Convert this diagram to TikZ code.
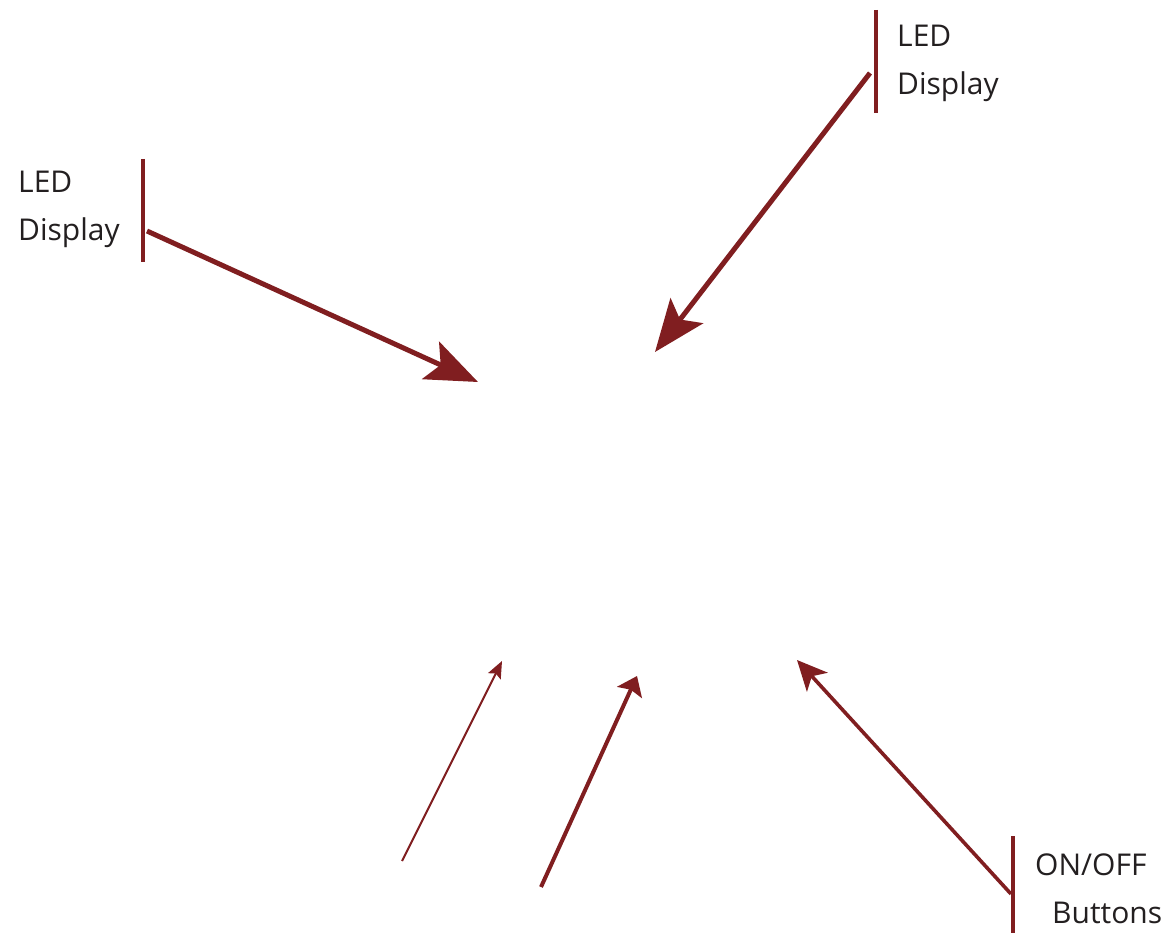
\documentclass[tikz,border=0pt]{standalone}
\usepackage{fontspec}
\setmainfont{Open Sans}
\usetikzlibrary{arrows.meta}
\definecolor{arrowred}{RGB}{128,30,32}
\definecolor{txt}{RGB}{35,31,32}
\begin{document}
\begin{tikzpicture}[x=1pt,y=-1pt,
  lbl/.style={anchor=base west,inner sep=0pt,text=txt,font=\fontsize{30}{36}\selectfont},
  bar/.style={draw=arrowred,line width=4pt},
  bigarrow/.style={draw=arrowred,line width=5pt,-{Stealth[length=52pt,width=41pt,inset=11pt,fill=arrowred]}},
  midarrow/.style={draw=arrowred,line width=3.6pt,-{Stealth[length=30pt,width=28pt,inset=8pt,fill=arrowred]}},
  flatarrow/.style={draw=arrowred,line width=4pt,-{Stealth[length=18pt,width=27pt,inset=3pt,fill=arrowred]}},
  thinarrow/.style={draw=arrowred,line width=2pt,-{Stealth[length=17pt,width=14pt,inset=3pt,fill=arrowred]}}]
\path[use as bounding box] (0,0) rectangle (1167,933);

% labels
\node[lbl] (ledA1) at (18,193) {LED};
\node[lbl] (ledA2) at (18,241) {Display};
\node[lbl] (ledB1) at (897,47) {LED};
\node[lbl] (ledB2) at (897,95) {Display};
\node[lbl] (onoff1) at (1035,875) {ON/OFF};
\node[lbl] (onoff2) at (1052,923) {Buttons};

% bars
\coordinate (barAt) at (143,159);
\coordinate (barAb) at (143,262);
\coordinate (barBt) at (876,10);
\coordinate (barBb) at (876,113);
\coordinate (barCt) at (1013,836);
\coordinate (barCb) at (1013,933);
\draw[bar] (barAt) -- (barAb);
\draw[bar] (barBt) -- (barBb);
\draw[bar] (barCt) -- (barCb);

% arrow ends
\coordinate (sA) at (147,231);
\coordinate (tA) at (478,382);
\coordinate (sB) at (870,73);
\coordinate (tB) at (655,352);
\coordinate (s3) at (402,861);
\coordinate (t3) at (502,661);
\coordinate (s4) at (541,887);
\coordinate (t4) at (637,676);
\coordinate (s5) at (1011,894);
\coordinate (t5) at (797,660);

\draw[bigarrow] (sA) -- (tA);
\draw[bigarrow] (sB) -- (tB);
\draw[thinarrow] (s3) -- (t3);
\draw[flatarrow] (s4) -- (t4);
\draw[midarrow] (s5) -- (t5);
\end{tikzpicture}
\end{document}
